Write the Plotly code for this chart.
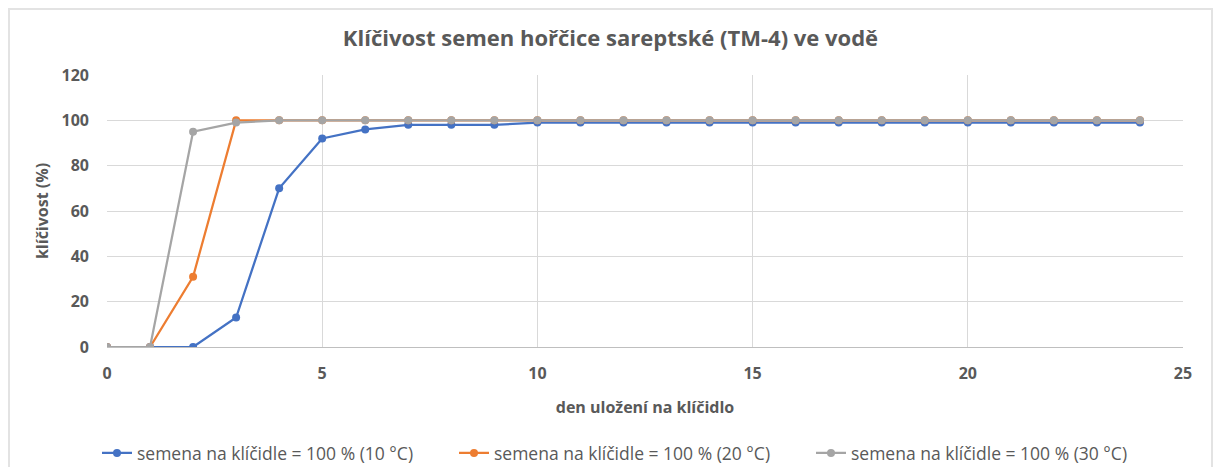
import plotly.graph_objects as go

days = list(range(0, 25))
blue_10 = [0, 0, 0, 13, 70, 92, 96, 98, 98, 98, 99, 99, 99, 99, 99, 99, 99, 99, 99, 99, 99, 99, 99, 99, 99]
orange_20 = [0, 0, 31, 100, 100, 100, 100, 100, 100, 100, 100, 100, 100, 100, 100, 100, 100, 100, 100, 100, 100, 100, 100, 100, 100]
gray_30 = [0, 0, 95, 99, 100, 100, 100, 100, 100, 100, 100, 100, 100, 100, 100, 100, 100, 100, 100, 100, 100, 100, 100, 100, 100]
names = ["semena na klíčidle = 100 % (10 °C)", "semena na klíčidle = 100 % (20 °C)", "semena na klíčidle = 100 % (30 °C)"]
colors = ["#4472C4", "#ED7D31", "#A5A5A5"]

OFF = 8  # default page body margin
W, H = 1221 - 2 * OFF, 475 - 2 * OFF
L, T = 107 - OFF, 75 - OFF
R = W - (1183 - OFF)
B = H - (347 - OFF)

fig = go.Figure()
for ys, n, c in zip([blue_10, orange_20, gray_30], names, colors):
    fig.add_trace(go.Scatter(x=days, y=ys, name=n, mode="lines+markers",
                             line=dict(color=c, width=2.25),
                             marker=dict(color=c, size=8)))

pw = W - L - R
ph = H - T - B
bottom_px = H - B  # plot bottom in figure px
# chart border (left, top, right) drawn at the figure edges
bx0 = (1 - L) / pw
bx1 = (W - 1 - L) / pw
by_top = (bottom_px - 1) / ph
by_bot = -(H + 10 - bottom_px) / ph
fig.add_shape(type="path", xref="paper", yref="paper",
              path=f"M {bx0} {by_bot} L {bx0} {by_top} L {bx1} {by_top} L {bx1} {by_bot}",
              line=dict(color="#E3E3E3", width=2), layer="below")

fig.update_layout(
    width=W, height=H,
    margin=dict(l=L, r=R, t=T, b=B, autoexpand=False),
    paper_bgcolor="white", plot_bgcolor="white",
    font=dict(family="Open Sans, sans-serif", color="#595959"),
    title=dict(text="<b>Klíčivost semen hořčice sareptské (TM-4) ve vodě</b>",
               x=0.5, xanchor="center", y=1 - (38 - OFF) / H, yanchor="middle",
               font=dict(size=22, color="#595959")),
    xaxis=dict(range=[0, 25], dtick=5, showgrid=True, gridcolor="#D9D9D9", gridwidth=1,
               zeroline=False, showline=True, linecolor="#BFBFBF", linewidth=1,
               ticks="", ticklabelstandoff=12, automargin=False,
               tickfont=dict(size=16, color="#595959", weight="bold"),
               title=dict(text="<b>den uložení na klíčidlo</b>", font=dict(size=16, color="#595959"), standoff=18)),
    yaxis=dict(range=[0, 120], dtick=20, showgrid=True, gridcolor="#D9D9D9", gridwidth=1,
               zeroline=False, showline=False, ticks="", ticklabelstandoff=17, automargin=False,
               tickfont=dict(size=16, color="#595959", weight="bold"),
               title=dict(text="<b>klíčivost (%)</b>", font=dict(size=16, color="#595959"), standoff=8)),
    legend=dict(orientation="h", x=(89 - L) / pw, xanchor="left",
                y=-(453 - OFF - bottom_px) / ph, yanchor="middle",
                font=dict(size=17.5, color="#595959"), itemwidth=30, entrywidth=312,
                traceorder="normal"),
    showlegend=True,
)

fig.write_html("out.html")
